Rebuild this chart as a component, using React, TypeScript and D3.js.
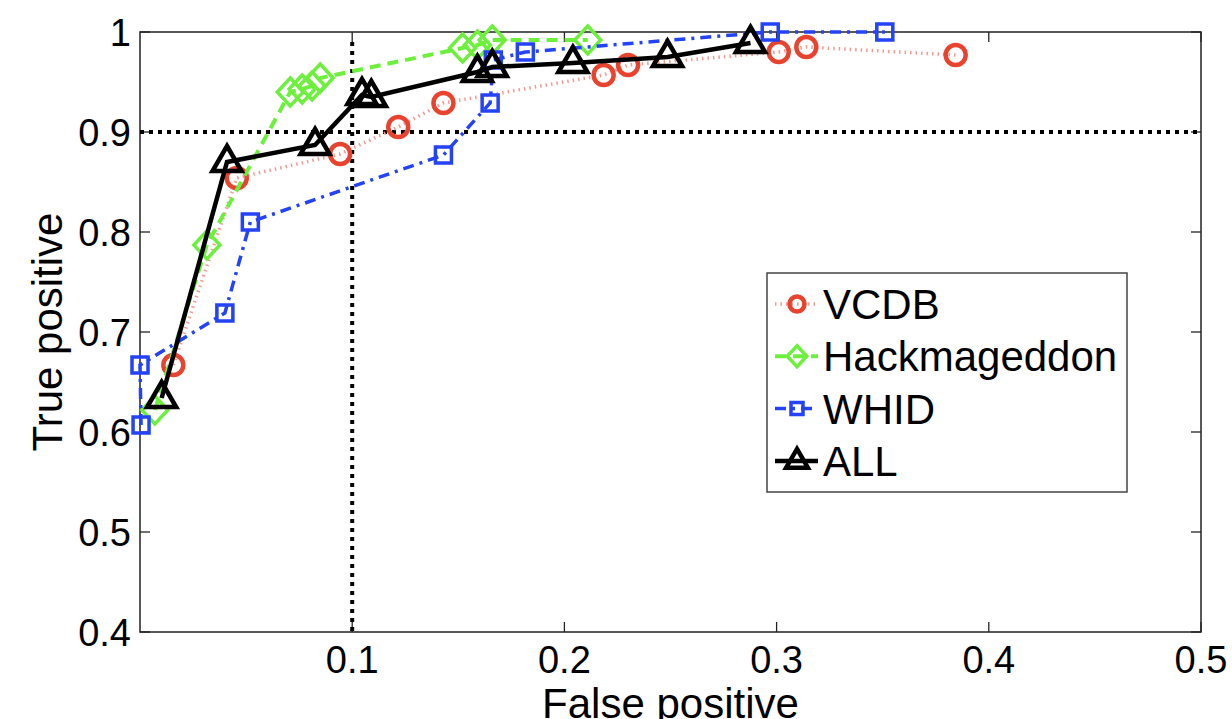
import * as d3 from 'd3';
import { useEffect, useRef } from 'react';

// tick values
const fpTicks = [0.1, 0.2, 0.3, 0.4, 0.5];
const tpTicks = [0.4, 0.5, 0.6, 0.7, 0.8, 0.9, 1];

// series (false positive, true positive)
const seriesNames = ['VCDB', 'Hackmageddon', 'WHID', 'ALL'];
const vcdbFP = [0.0157, 0.0456, 0.0943, 0.1217, 0.143, 0.2185, 0.23, 0.301, 0.314, 0.3844];
const vcdbTP = [0.667, 0.854, 0.878, 0.905, 0.929, 0.957, 0.967, 0.98, 0.985, 0.977];
const hackFP = [0.007, 0.0315, 0.0708, 0.0764, 0.0811, 0.0849, 0.152, 0.159, 0.166, 0.211];
const hackTP = [0.622, 0.787, 0.94, 0.943, 0.946, 0.954, 0.984, 0.987, 0.992, 0.992];
const whidFP = [0.0005, 0.0, 0.04, 0.052, 0.143, 0.165, 0.1665, 0.1816, 0.297, 0.351];
const whidTP = [0.607, 0.667, 0.719, 0.81, 0.877, 0.929, 0.972, 0.98, 1.0, 1.0];
const allFP = [0.0102, 0.041, 0.0825, 0.1046, 0.109, 0.159, 0.166, 0.204, 0.2486, 0.2877];
const allTP = [0.634, 0.87, 0.887, 0.937, 0.935, 0.96, 0.965, 0.969, 0.975, 0.989];

// operating point guides
const refFP = 0.1;
const refTP = 0.9;

const W = 1232;
const H = 719;
const font = '"Liberation Sans", Arial, Helvetica, sans-serif';

const markerPath = (kind: string) => {
  if (kind === 'diamond') return 'M0,-14L13,0L0,14L-13,0Z';
  if (kind === 'square') return 'M-8,-8H8V8H-8Z';
  if (kind === 'triangle') return 'M0,-16L14.5,9L-14.5,9Z';
  return d3.arc()({ innerRadius: 0, outerRadius: 10, startAngle: 0, endAngle: 2 * Math.PI }) as string;
};

const App = () => {
  const svgRef = useRef<SVGSVGElement>(null);
  const margin = { top: 32, bottom: 87, right: 31, left: 140 };

  useEffect(() => {
    const svg = d3.select(svgRef.current).attr('width', W).attr('height', H);
    svg.selectAll('*').remove();

    const x = d3.scaleLinear().domain([0, 0.5]).range([margin.left, W - margin.right]);
    const y = d3.scaleLinear().domain([0.4, 1]).range([H - margin.bottom, margin.top]);

    const styles = [
      { color: '#e8432e', line: '#f39a93', width: 3.5, dash: '1.5,4', marker: 'circle', mw: 4.5 },
      { color: '#6cf03c', line: '#6cf03c', width: 4, dash: '11,7', marker: 'diamond', mw: 3.5 },
      { color: '#2442f6', line: '#2442f6', width: 3.5, dash: '11,6,3,6', marker: 'square', mw: 3.5 },
      { color: '#000', line: '#000', width: 4.5, dash: null, marker: 'triangle', mw: 4.5 },
    ];
    const fps = [vcdbFP, hackFP, whidFP, allFP];
    const tps = [vcdbTP, hackTP, whidTP, allTP];

    // frame
    svg.append('rect')
      .attr('x', x(0)).attr('y', y(1))
      .attr('width', x(0.5) - x(0)).attr('height', y(0.4) - y(1))
      .attr('fill', 'white').attr('stroke', '#222').attr('stroke-width', 1.5);

    // ticks (inward, on all four sides)
    fpTicks.forEach(t => {
      svg.append('line').attr('x1', x(t)).attr('x2', x(t)).attr('y1', y(0.4)).attr('y2', y(0.4) - 10).attr('stroke', '#222').attr('stroke-width', 1.3);
      svg.append('line').attr('x1', x(t)).attr('x2', x(t)).attr('y1', y(1)).attr('y2', y(1) + 10).attr('stroke', '#222').attr('stroke-width', 1.3);
      svg.append('text')
        .attr('x', x(t)).attr('y', y(0.4) + 41)
        .attr('text-anchor', 'middle')
        .style('font-family', font).style('font-size', '38px')
        .text(d3.format('.1f')(t));
    });
    tpTicks.forEach(t => {
      svg.append('line').attr('x1', x(0)).attr('x2', x(0) + 10).attr('y1', y(t)).attr('y2', y(t)).attr('stroke', '#222').attr('stroke-width', 1.3);
      svg.append('line').attr('x1', x(0.5)).attr('x2', x(0.5) - 10).attr('y1', y(t)).attr('y2', y(t)).attr('stroke', '#222').attr('stroke-width', 1.3);
      svg.append('text')
        .attr('x', x(0) - 9).attr('y', y(t)).attr('dy', '0.36em')
        .attr('text-anchor', 'end')
        .style('font-family', font).style('font-size', '38px')
        .text(t === 1 ? '1' : d3.format('.1f')(t));
    });

    // axis titles
    svg.append('text')
      .attr('x', (x(0) + x(0.5)) / 2).attr('y', H - 1)
      .attr('text-anchor', 'middle')
      .style('font-family', font).style('font-size', '42px')
      .text('False positive');
    svg.append('text')
      .attr('transform', `translate(62,${(y(0.4) + y(1)) / 2}) rotate(-90)`)
      .attr('text-anchor', 'middle')
      .style('font-family', font).style('font-size', '42px')
      .text('True positive');

    // guide lines
    svg.append('line')
      .attr('x1', x(0)).attr('x2', x(0.5)).attr('y1', y(refTP)).attr('y2', y(refTP))
      .attr('stroke', '#000').attr('stroke-width', 4).attr('stroke-dasharray', '4,5');
    svg.append('line')
      .attr('x1', x(refFP)).attr('x2', x(refFP)).attr('y1', y(0.99)).attr('y2', y(0.4))
      .attr('stroke', '#000').attr('stroke-width', 4).attr('stroke-dasharray', '4,5');

    const lineGen = d3.line<[number, number]>().x(d => x(d[0])).y(d => y(d[1]));

    for (let i = 0; i < seriesNames.length; i++) {
      const s = styles[i];
      const pts = fps[i].map((f, j) => [f, tps[i][j]] as [number, number]);
      svg.append('path')
        .attr('d', lineGen(pts))
        .attr('fill', 'none')
        .attr('stroke', s.line)
        .attr('stroke-width', s.width)
        .attr('stroke-dasharray', s.dash);
      svg.selectAll(null)
        .data(pts)
        .enter()
        .append('path')
        .attr('d', markerPath(s.marker))
        .attr('transform', d => `translate(${x(d[0])},${y(d[1])})`)
        .attr('fill', 'none')
        .attr('stroke', s.color)
        .attr('stroke-width', s.mw)
        .attr('stroke-linejoin', 'miter');
    }

    // legend
    const lg = svg.append('g');
    lg.append('rect')
      .attr('x', 767).attr('y', 273).attr('width', 360).attr('height', 219)
      .attr('fill', 'white').attr('stroke', '#444').attr('stroke-width', 1.5);
    seriesNames.forEach((name, i) => {
      const s = styles[i];
      const cy = 304 + i * 52.3;
      lg.append('line')
        .attr('x1', 775).attr('x2', 818).attr('y1', cy).attr('y2', cy)
        .attr('stroke', s.line).attr('stroke-width', s.width)
        .attr('stroke-dasharray', s.dash);
      lg.append('path')
        .attr('d', markerPath(s.marker))
        .attr('transform', `translate(797,${cy}) scale(0.75)`)
        .attr('fill', 'none')
        .attr('stroke', s.color)
        .attr('stroke-width', s.mw / 0.75);
      lg.append('text')
        .attr('x', 823).attr('y', cy).attr('dy', '0.36em')
        .style('font-family', font).style('font-size', '42px')
        .text(name);
    });
  });

  return (
    <div>
      <svg ref={svgRef} style={{ position: 'absolute', left: 0, top: 0, background: 'white' }} />
    </div>
  );
};

export default App;
